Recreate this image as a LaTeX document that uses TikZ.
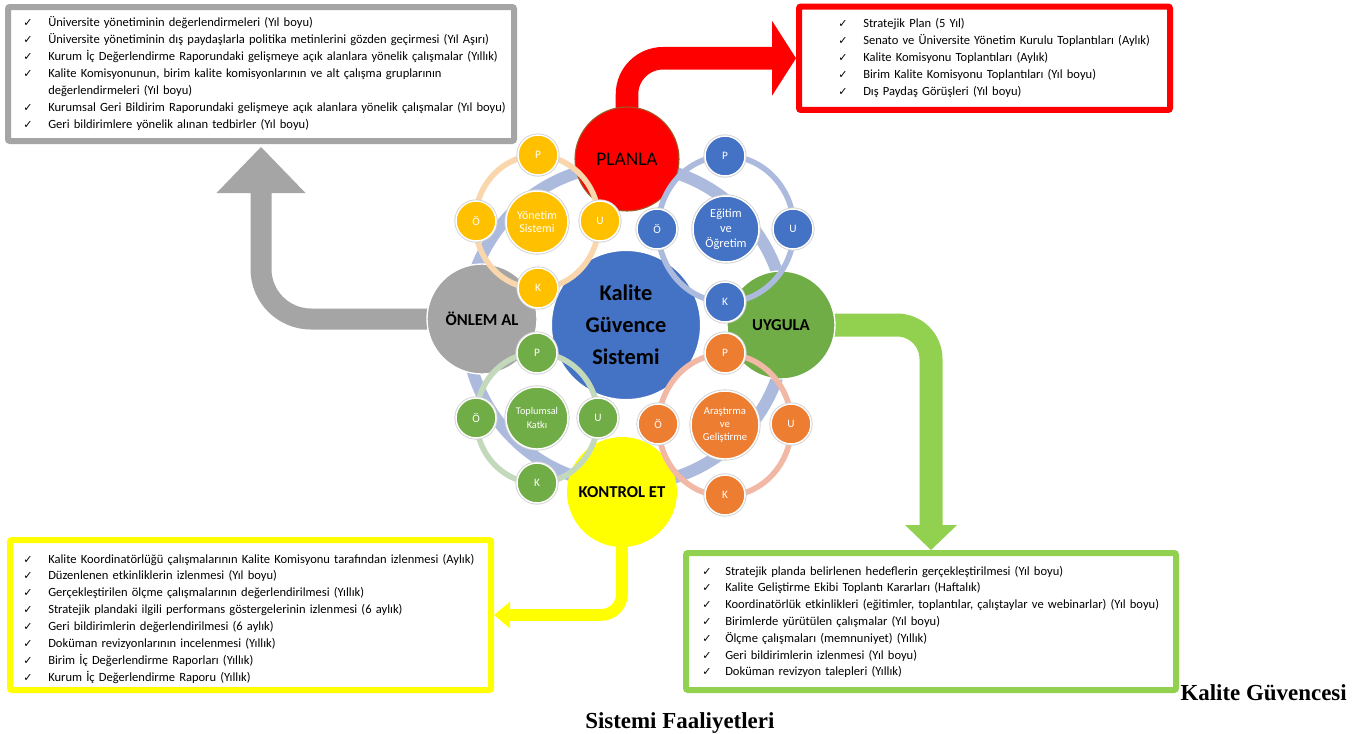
\documentclass[tikz,border=0pt]{standalone}
\usepackage{fontspec}
\setmainfont{Carlito}
\newfontfamily\dejavu{DejaVu Sans}
\newfontfamily\capfont{Liberation Serif}
\usetikzlibrary{arrows.meta}
\pgfdeclarelayer{bg}
\pgfdeclarelayer{pd}
\pgfdeclarelayer{rings}
\pgfsetlayers{bg,pd,rings,main}
\definecolor{cgrey}{HTML}{A5A5A5}
\definecolor{cred}{HTML}{FF0000}
\definecolor{cyel}{HTML}{FFFF00}
\definecolor{cgreen}{HTML}{92D050}
\definecolor{cblue}{HTML}{4472C4}
\definecolor{cgold}{HTML}{FFC000}
\definecolor{cleaf}{HTML}{70AD47}
\definecolor{corange}{HTML}{ED7D31}
\definecolor{cband}{RGB}{172,186,222}
\definecolor{rgold}{RGB}{250,214,172}
\definecolor{rblue}{RGB}{172,186,222}
\definecolor{rleaf}{RGB}{195,217,188}
\definecolor{rorange}{RGB}{242,184,166}
\definecolor{planedge}{RGB}{160,90,40}
\newcommand{\mychk}[1][18.75pt]{\makebox[#1][l]{\dejavu\fontsize{8.3}{8.3}\selectfont ✓}}
\begin{document}
\begin{tikzpicture}[x=0.75pt,y=-0.75pt,
  box/.style={draw, line width=4.5pt, rounded corners=1.5pt, inner sep=0pt, fill=white},
  txt/.style={align=left, inner sep=0pt, anchor=base west, text width=372pt},
  pdca/.style={circle, inner sep=0pt, align=center, text=black},
  grp/.style={circle, inner sep=0pt, align=center, text=white, draw=white, line width=1.1pt,
    preaction={draw=black!18, line width=2.4pt}},
  sat/.style={grp, minimum size=30pt, font=\fontsize{8.5}{9}\selectfont},
  ringl/.style={line width=4.2pt},
  capt/.style={inner sep=0pt, font=\capfont\bfseries\fontsize{17.2}{19}\selectfont}]
\path[use as bounding box] (0,0) rectangle (1364,733);

% ---------- boxes ----------
\node[box, draw=cgrey, minimum width=379.5pt, minimum height=100.5pt] (greybox) at (261,74) {};
\node[box, draw=cred, minimum width=278.25pt, minimum height=77.6pt] (redbox) at (984.5,58.25) {};
\node[box, draw=cyel, minimum width=360.75pt, minimum height=112.5pt] (yellowbox) at (250.5,615) {};
\node[box, draw=cgreen, minimum width=367.5pt, minimum height=102.75pt] (greenbox) at (931,621.5) {};

\node[txt, font=\fontsize{9.4}{12.75}\selectfont] (greytxt) at (23,26) {%
\mychk Üniversite yönetiminin değerlendirmeleri (Yıl boyu)\\
\mychk Üniversite yönetiminin dış paydaşlarla politika metinlerini gözden geçirmesi (Yıl Aşırı)\\
\mychk Kurum İç Değerlendirme Raporundaki gelişmeye açık alanlara yönelik çalışmalar (Yıllık)\\
\mychk Kalite Komisyonunun, birim kalite komisyonlarının ve alt çalışma gruplarının\\
\hspace*{18.75pt}değerlendirmeleri (Yıl boyu)\\
\mychk Kurumsal Geri Bildirim Raporundaki gelişmeye açık alanlara yönelik çalışmalar (Yıl boyu)\\
\mychk Geri bildirimlere yönelik alınan tedbirler (Yıl boyu)};

\node[txt, text width=250pt, font=\fontsize{9.4}{12.75}\selectfont] (redtxt) at (838,27) {%
\mychk Stratejik Plan (5 Yıl)\\
\mychk Senato ve Üniversite Yönetim Kurulu Toplantıları (Aylık)\\
\mychk Kalite Komisyonu Toplantıları (Aylık)\\
\mychk Birim Kalite Komisyonu Toplantıları (Yıl boyu)\\
\mychk Dış Paydaş Görüşleri (Yıl boyu)};

\node[txt, font=\fontsize{9.4}{12.7}\selectfont] (yeltxt) at (23,563) {%
\mychk Kalite Koordinatörlüğü çalışmalarının Kalite Komisyonu tarafından izlenmesi (Aylık)\\
\mychk Düzenlenen etkinliklerin izlenmesi (Yıl boyu)\\
\mychk Gerçekleştirilen ölçme çalışmalarının değerlendirilmesi (Yıllık)\\
\mychk Stratejik plandaki ilgili performans göstergelerinin izlenmesi (6 aylık)\\
\mychk Geri bildirimlerin değerlendirilmesi (6 aylık)\\
\mychk Doküman revizyonlarının incelenmesi (Yıllık)\\
\mychk Birim İç Değerlendirme Raporları (Yıllık)\\
\mychk Kurum İç Değerlendirme Raporu (Yıllık)};

\node[txt, font=\fontsize{9.4}{12.6}\selectfont] (greentxt) at (702,575) {%
\mychk[17.25pt]Stratejik planda belirlenen hedeflerin gerçekleştirilmesi (Yıl boyu)\\
\mychk[17.25pt]Kalite Geliştirme Ekibi Toplantı Kararları (Haftalık)\\
\mychk[17.25pt]Koordinatörlük etkinlikleri (eğitimler, toplantılar, çalıştaylar ve webinarlar) (Yıl boyu)\\
\mychk[17.25pt]Birimlerde yürütülen çalışmalar (Yıl boyu)\\
\mychk[17.25pt]Ölçme çalışmaları (memnuniyet) (Yıllık)\\
\mychk[17.25pt]Geri bildirimlerin izlenmesi (Yıl boyu)\\
\mychk[17.25pt]Doküman revizyon talepleri (Yıllık)};

\node[capt, anchor=base east] (cap1) at (1347,700) {Kalite Güvencesi};
\node[capt, anchor=base west] (cap2) at (585,728) {Sistemi Faaliyetleri};

% ---------- PDCA circles ----------
\begin{pgfonlayer}{pd}
\node[pdca, fill=cred, draw=planedge, line width=0.8pt, minimum size=78pt,
  font=\fontsize{14.5}{16}\selectfont] (planla) at (627,159) {PLANLA};
\node[pdca, fill=cgrey, draw=white, line width=1pt, minimum size=82.5pt,
  font=\bfseries\fontsize{12.5}{14}\selectfont] (onlem) at (482,319) {ÖNLEM AL};
\node[pdca, fill=cleaf, draw=white, line width=1pt, minimum size=81pt,
  font=\bfseries\fontsize{12.5}{14}\selectfont] (uygula) at (781,325) {UYGULA};
\node[pdca, fill=cyel, minimum size=82.5pt,
  font=\bfseries\fontsize{12.5}{14}\selectfont] (kontrol) at (622,492) {KONTROL ET};
\node[pdca, fill=cblue, draw=white, line width=1.5pt, minimum size=112.5pt,
  font=\bfseries\fontsize{16.8}{24}\selectfont] (kgs) at (626,325) {Kalite\\Güvence\\Sistemi};
\end{pgfonlayer}

% ---------- satellite groups ----------
\node[grp, fill=cgold, minimum size=46.5pt, font=\fontsize{9}{10}\selectfont] (ys) at (537,222) {Yönetim\\Sistemi};
\node[sat, fill=cgold] (yP) at (538,155) {P};
\node[sat, fill=cgold] (yO) at (476,221) {Ö};
\node[sat, fill=cgold] (yU) at (600,221) {U};
\node[sat, fill=cgold] (yK) at (538,288) {K};

\node[grp, fill=cblue, minimum size=49.5pt, font=\fontsize{9.3}{11.25}\selectfont] (bs) at (726,229) {Eğitim\\ve\\Öğretim};
\node[sat, fill=cblue] (bP) at (725,156) {P};
\node[sat, fill=cblue] (bO) at (657,229) {Ö};
\node[sat, fill=cblue] (bU) at (793,229) {U};
\node[sat, fill=cblue] (bK) at (725,302) {K};

\node[grp, fill=cleaf, minimum size=46.5pt, font=\fontsize{7.7}{10.5}\selectfont] (gs) at (537,418) {Toplumsal\\Katkı};
\node[sat, fill=cleaf] (gP) at (537,353) {P};
\node[sat, fill=cleaf] (gO) at (476,418) {Ö};
\node[sat, fill=cleaf] (gU) at (598,418) {U};
\node[sat, fill=cleaf] (gK) at (537,483) {K};

\node[grp, fill=corange, minimum size=51pt, font=\fontsize{8}{9.75}\selectfont] (os) at (725,425) {Araştırma\\ve\\Geliştirme};
\node[sat, fill=corange] (oP) at (725,353) {P};
\node[sat, fill=corange] (oO) at (658,424) {Ö};
\node[sat, fill=corange] (oU) at (791,424) {U};
\node[sat, fill=corange] (oK) at (725,495) {K};

\begin{pgfonlayer}{rings}
\draw[ringl, rgold] (ys.center) ellipse[x radius=62, y radius=66.5];
\draw[ringl, rblue] (bs.center) ellipse[x radius=68, y radius=73];
\draw[ringl, rleaf] (gs.center) ellipse[x radius=61, y radius=65];
\draw[ringl, rorange] (os.center) ellipse[x radius=66.5, y radius=71];
\end{pgfonlayer}

% ---------- background: band and block arrows ----------
\begin{pgfonlayer}{bg}
\fill[white] (0,0) rectangle (1364,733);
\draw[cband, line width=9pt] (kgs.center) circle[radius=160];
\draw[cgrey, line width=15.75pt, rounded corners=37.5pt,
  -{Triangle[width=66.75pt,length=34.5pt,line width=0pt]}]
  (onlem.center) -| ([yshift=-2.25pt]greybox.south);
\draw[cred, line width=16.9pt, rounded corners=27pt,
  -{Triangle[width=56.25pt,length=18pt,line width=0pt]}]
  (planla.center) |- (redbox.west);
\draw[cgreen, line width=17.25pt, rounded corners=25.5pt,
  -{Triangle[width=39pt,length=18.75pt,line width=0pt]}]
  (uygula.center) -| (greenbox.north);
\draw[cyel, line width=8.8pt, rounded corners=15.75pt,
  -{Triangle[width=20pt,length=12pt,line width=0pt]}]
  (kontrol.center) |- (yellowbox.east);
\end{pgfonlayer}
\end{tikzpicture}
\end{document}
